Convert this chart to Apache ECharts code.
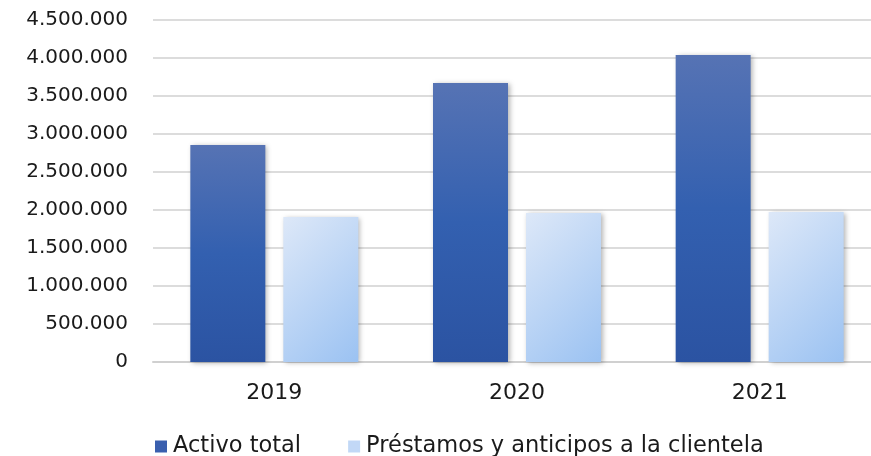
<!DOCTYPE html>
<html>
<head>
<meta charset="utf-8">
<script src="https://cdn.jsdelivr.net/npm/echarts@6/dist/echarts.min.js"></script>
<style>
  html, body { margin: 0; padding: 0; background: #fff; overflow: hidden; }
  /* el área de trazado sobresale un poco por la derecha, como en el original */
  #chart { width: 881px; height: 456px; }
</style>
</head>
<body>
<div id="chart"></div>
<script>
// datos
const years = ['2019', '2020', '2021'];
const activoTotal = [2855000, 3671000, 4039000];
const prestamos = [1908000, 1960000, 1974000];
const seriesNames = ['Activo total', 'Préstamos y anticipos a la clientela'];

const FONT = 'DejaVu Sans';
const Y_MAX = 4500000;
const PLOT_H = 342;
const BAR_W = 75;

function miles(v) {
  return String(v).replace(/\B(?=(\d{3})+(?!\d))/g, '.');
}

// degradado a 45° (arriba-izquierda claro, abajo-derecha más oscuro)
function diagonal(p) {
  const h = p.value / Y_MAX * PLOT_H;
  const d = (BAR_W + h) / 2;
  return new echarts.graphic.LinearGradient(0, 0, d / BAR_W, d / h, [
    { offset: 0, color: '#dde8f8' },
    { offset: 1, color: '#9bc2f2' }
  ]);
}

const chart = echarts.init(document.getElementById('chart'));
const option = {
  animation: false,
  textStyle: { fontFamily: FONT },
  grid: { left: 153, top: 20, right: 0, height: PLOT_H, containLabel: false },
  legend: {
    data: [
      { name: seriesNames[0], itemStyle: { color: '#3a5fae' } },
      { name: seriesNames[1], itemStyle: { color: '#c2d8f6' } }
    ],
    left: 150,
    top: 430,
    itemWidth: 12,
    itemHeight: 12,
    itemGap: 47,
    icon: 'rect',
    textStyle: { fontFamily: FONT, fontSize: 22.5, color: '#1a1a1a', padding: [0, 0, 0, 1] }
  },
  xAxis: {
    type: 'category',
    data: years,
    axisLine: { lineStyle: { color: '#d0d0d0', width: 2 } },
    axisTick: { show: false },
    axisLabel: { fontFamily: FONT, fontSize: 22, color: '#1a1a1a', margin: 20 }
  },
  yAxis: {
    type: 'value',
    min: 0,
    max: Y_MAX,
    interval: 500000,
    axisLine: { show: false },
    axisTick: { show: false },
    splitLine: { lineStyle: { color: '#dcdcdc', width: 2 } },
    axisLabel: {
      fontFamily: FONT, fontSize: 20, color: '#1a1a1a', margin: 25,
      formatter: v => miles(v)
    }
  },
  series: [
    {
      name: seriesNames[0],
      type: 'bar',
      data: activoTotal,
      barWidth: BAR_W,
      barGap: '24%',
      itemStyle: {
        color: new echarts.graphic.LinearGradient(0, 0, 0, 1, [
          { offset: 0, color: '#5673b4' },
          { offset: 0.5, color: '#3360b0' },
          { offset: 1, color: '#2b53a2' }
        ]),
        shadowBlur: 5,
        shadowColor: 'rgba(0,0,0,0.3)',
        shadowOffsetX: 2,
        shadowOffsetY: 1
      }
    },
    {
      name: seriesNames[1],
      type: 'bar',
      data: prestamos,
      barWidth: BAR_W,
      itemStyle: {
        color: diagonal,
        shadowBlur: 5,
        shadowColor: 'rgba(0,0,0,0.3)',
        shadowOffsetX: 2,
        shadowOffsetY: 1
      }
    }
  ]
};
chart.setOption(option);
</script>
</body>
</html>
